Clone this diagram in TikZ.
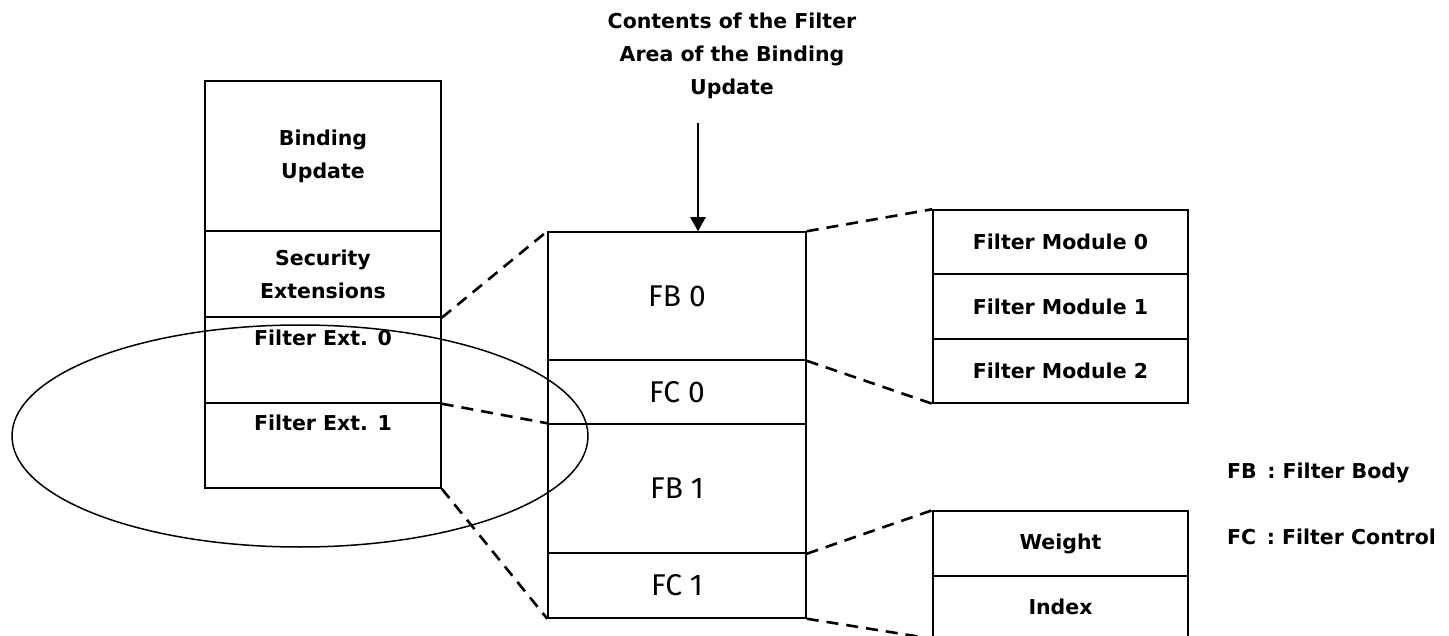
\documentclass[tikz,border=0pt]{standalone}
\usepackage{fontspec}
\setmainfont{Fira Sans}
\newfontfamily\labelfont{DejaVu Sans}
\usetikzlibrary{shapes.geometric,arrows.meta}
\tikzset{
  cell/.style={draw, line width=1.5pt, rectangle, inner sep=0pt, align=center,
    font=\labelfont\fontsize{20.5}{33}\selectfont\bfseries},
  leftcell/.style={cell, minimum width=236pt},
  midcell/.style={cell, minimum width=258pt, font=\fontsize{30}{36}\selectfont},
  rightcell/.style={cell, minimum width=255pt},
  link/.style={dashed, line width=2.6pt, dash pattern=on 12pt off 8pt},
  lbl/.style={inner sep=0pt, align=center, font=\labelfont\fontsize{20.5}{33}\selectfont\bfseries},
}
\begin{document}
\begin{tikzpicture}[x=1pt,y=-1pt]
\useasboundingbox (0,0) rectangle (1449,636);
\clip (0,0) rectangle (1449,636);
% left stack
\node[leftcell, minimum height=150pt] (bu) at (323,156) {Binding\\Update};
\node[leftcell, minimum height=86pt] (se) at (323,274) {Security\\Extensions};
\node[leftcell, minimum height=86pt] (fe0) at (323,360) {};
\node[leftcell, minimum height=85pt] (fe1) at (323,445.5) {};
\node[lbl] (fe0t) at (323,338) {Filter Ext. 0};
\node[lbl] (fe1t) at (323,423) {Filter Ext. 1};
% middle stack
\node[midcell, minimum height=128pt] (fb0) at (677,296) {FB 0};
\node[midcell, minimum height=64pt] (fc0) at (677,392) {FC 0};
\node[midcell, minimum height=129pt] (fb1) at (677,488.5) {FB 1};
\node[midcell, minimum height=65pt] (fc1) at (677,585.5) {FC 1};
% right stacks
\node[rightcell, minimum height=64pt] (fm0) at (1060.5,242) {Filter Module 0};
\node[rightcell, minimum height=65pt] (fm1) at (1060.5,306.5) {Filter Module 1};
\node[rightcell, minimum height=64pt] (fm2) at (1060.5,371) {Filter Module 2};
\node[rightcell, minimum height=65pt] (wt) at (1060.5,543.5) {Weight};
\node[rightcell, minimum height=62pt] (ix) at (1060.5,607) {Index};
% ellipse
\node[draw, ellipse, line width=1.5pt, minimum width=576pt, minimum height=222pt, inner sep=0pt] (ring) at (300,436) {};
% title and arrow
\node[lbl] (title) at (732,56) {Contents of the Filter\\Area of the Binding\\Update};
\coordinate (arrtop) at (698,123);
\draw[line width=2.2pt, -{Triangle[width=15pt,length=14pt]}] (arrtop) -- (arrtop |- fb0.north);
% legend
\node[lbl, anchor=west] (lg1) at (1227,473) {FB\ \,:\ Filter Body};
\node[lbl, anchor=west] (lg2) at (1227,537) {FC\ \,:\ Filter Control};
% dashed links
\draw[link] (se.south east) -- (fb0.north west);
\draw[link] (fe0.south east) -- (fb1.north west);
\draw[link] (fe1.south east) -- (fc1.south west);
\draw[link] (fb0.north east) -- (fm0.north west);
\draw[link] (fb0.south east) -- (fm2.south west);
\draw[link] (fb1.south east) -- (wt.north west);
\draw[link] (fc1.south east) -- (ix.south west);
\end{tikzpicture}
\end{document}
